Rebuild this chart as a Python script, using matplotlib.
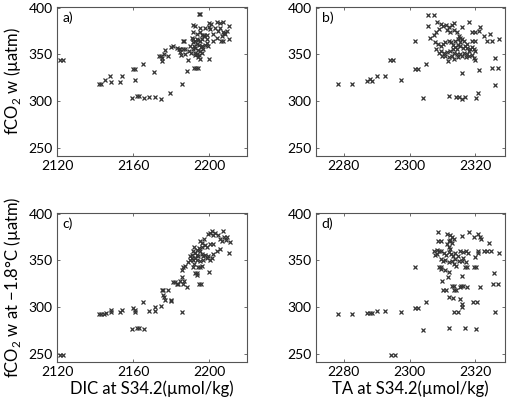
import matplotlib
matplotlib.use("Agg")
import matplotlib.pyplot as plt

plt.rcParams['font.family'] = ['Lato', 'DejaVu Sans']
plt.rcParams['mathtext.fontset'] = 'custom'
plt.rcParams['mathtext.rm'] = 'Lato'

# panel a: DIC vs fCO2w
a_x = [2121.4, 2123.2,
       2142.1, 2143.4, 2145.3, 2148.1, 2148.3, 2153.4, 2154.1,
       2160.1, 2161.1, 2161.3, 2165.3,
       2159.4, 2162.2, 2163.2, 2166.0, 2168.5, 2171.7, 2174.8,
       2171.3, 2179.4, 2185.7, 2188.5, 2189.2, 2191.9, 2193.3, 2194.3, 2200.1,
       2175.5, 2175.5, 2176.2, 2176.8, 2173.6, 2175.0, 2178.5, 2180.1, 2181.3, 2183.1,
       2184.0, 2184.9, 2186.1, 2187.5, 2186.1, 2186.6, 2184.7, 2187.3, 2189.4, 2185.2,
       2190.8, 2191.7, 2191.4, 2192.6, 2193.5, 2194.3, 2195.2, 2196.1, 2192.2, 2193.5,
       2194.7, 2195.6, 2191.7, 2192.6, 2194.3, 2195.2, 2192.6, 2193.8, 2194.7, 2196.1,
       2197.0, 2197.9, 2196.1, 2197.3, 2198.7, 2191.7, 2193.5, 2195.2, 2194.3, 2195.2,
       2192.6, 2190.3, 2190.0,
       2194.5, 2195.2, 2191.7, 2192.6, 2195.2, 2197.3, 2198.7, 2200.0, 2200.8, 2200.5,
       2204.0, 2205.8, 2207.2, 2205.8, 2207.2, 2207.9, 2209.3, 2210.5, 2210.7, 2206.3,
       2207.2, 2202.1, 2206.6, 2198.7, 2199.6, 2196.1, 2203.0, 2204.5, 2198.0, 2200.0,
       2202.0, 2204.0, 2208.5]
a_y = [344, 344,
       318, 318, 323, 327, 320, 320, 327,
       334, 334, 323, 340,
       303, 305, 305, 303, 304, 304, 302,
       331, 309, 318, 332, 344, 335, 335, 335, 345,
       343, 346, 350, 355, 348, 348, 348, 358, 359, 357,
       356, 356, 356, 356, 365, 365, 353, 351, 354, 349,
       368, 367, 363, 365, 367, 366, 364, 367, 359, 361,
       360, 358, 356, 357, 355, 354, 352, 350, 349, 352,
       356, 360, 371, 370, 367, 374, 372, 374, 347, 345,
       349, 352, 359,
       393, 393, 382, 381, 378, 371, 371, 384, 383, 377,
       385, 384, 385, 378, 374, 373, 375, 381, 367, 365,
       365, 365, 370, 362, 359, 359, 378, 375, 378, 380,
       372, 368, 372]

# panel b: TA vs fCO2w
b_x = [2278.3, 2282.5, 2287.0, 2288.0, 2288.6, 2290.0, 2292.4, 2294.0, 2295.0, 2297.4,
       2301.6, 2301.7, 2302.5, 2305.0, 2304.0, 2312.0, 2314.0, 2315.0, 2316.0, 2316.7,
       2316.0, 2320.2, 2320.7, 2321.0, 2326.0, 2326.0, 2325.0, 2327.0, 2327.3, 2323.5,
       2325.0, 2324.3, 2322.5, 2321.5, 2321.0, 2319.0, 2320.0, 2318.0, 2319.0, 2320.0,
       2319.0, 2319.5, 2320.0, 2319.0, 2319.5, 2320.0,
       2305.5, 2307.3, 2305.7, 2308.4, 2309.4, 2306.3, 2307.3, 2308.0, 2309.0, 2310.0,
       2311.0, 2312.0, 2313.0, 2313.4, 2311.4, 2312.2, 2313.4, 2314.4, 2316.0, 2315.0,
       2315.4, 2314.6, 2316.0,
       2307.8, 2308.7, 2309.4, 2310.2, 2310.9, 2311.9, 2312.6, 2313.2, 2313.9, 2314.6,
       2315.4, 2316.3, 2316.7, 2317.5, 2318.0, 2318.5, 2309.4, 2310.4, 2311.4, 2312.4,
       2313.4, 2314.4, 2315.4, 2316.5, 2317.5, 2310.9, 2311.9, 2312.9, 2313.4, 2311.7,
       2309.9, 2308.9, 2308.0, 2314.4, 2313.2, 2317.5, 2316.5, 2315.4, 2313.9, 2314.6,
       2316.0, 2317.0, 2318.0]
b_y = [318.6, 318.6, 321, 324, 321, 327, 327, 344, 344, 323,
       365, 334, 334, 340, 303, 305, 304, 304, 302, 304,
       330, 303, 309, 333, 317, 346, 335, 335, 367, 364,
       364, 372, 370, 379, 375, 374, 374, 385, 365, 365,
       358, 356, 354, 349, 346, 344,
       392, 392, 381, 385, 383, 368, 371, 374, 377, 381,
       382, 380, 382, 384, 376, 374, 376, 374, 379, 370,
       368, 367, 367,
       363, 361, 359.5, 361, 363, 365, 363, 360, 357.7, 360,
       358.8, 356.6, 359.5, 356.6, 354, 356, 354, 352, 353, 354,
       352, 350.5, 350.5, 352, 350.5, 348.7, 347, 348.7, 345, 343,
       348.7, 352, 356, 356, 356, 361, 365, 363, 364, 347,
       348.7, 347, 348.7]

# panel c: DIC vs fCO2w at -1.8C
c_x = [2121.5, 2123.0,
       2142.1, 2143.4, 2144.6, 2146.0,
       2148.3, 2148.3, 2153.4, 2154.1,
       2160.1, 2161.3, 2161.3, 2165.3,
       2159.4, 2162.2, 2163.2, 2166.0,
       2168.5, 2171.7, 2171.7, 2174.8,
       2175.5, 2175.9, 2175.9, 2176.2, 2176.8, 2178.5, 2179.8, 2179.8,
       2185.7,
       2181.2, 2182.0, 2182.9, 2183.8, 2184.7, 2185.6, 2186.1, 2186.8, 2188.2,
       2185.6, 2186.4, 2187.3, 2189.1, 2189.9, 2190.8, 2191.7, 2192.2, 2193.5, 2194.9,
       2195.7, 2192.6, 2193.5, 2194.3, 2195.2, 2196.1, 2200.1,
       2191.7, 2192.6, 2193.5, 2194.3, 2195.2, 2196.1, 2197.0, 2192.6, 2193.8, 2195.2,
       2197.0, 2197.9, 2198.7, 2192.2, 2193.5, 2194.9, 2196.1, 2190.8, 2191.7, 2189.9,
       2195.2, 2196.1, 2197.3, 2199.6, 2200.5, 2201.4, 2202.2, 2203.1, 2204.9, 2205.8,
       2206.6, 2207.2, 2207.9, 2208.9, 2209.6, 2211.0, 2204.0, 2205.8, 2202.2, 2201.4,
       2199.6, 2200.5, 2210.7, 2198.7, 2197.9, 2200.5, 2202.2]
c_y = [249, 249,
       292, 292, 293, 293.5,
       295, 297, 295, 297,
       299, 297, 295, 305,
       276, 278, 278, 276,
       296, 296, 300, 301,
       318, 318, 313, 311, 308, 318, 308, 306,
       295,
       327, 327, 325, 325, 328, 332, 325, 328, 322,
       340, 343, 344, 348, 350, 353, 343, 346, 334, 325,
       325, 337, 337, 343, 343, 344, 338,
       360, 358, 356, 355, 360, 357, 355, 353, 351, 349,
       351, 356, 353, 364, 361, 363, 364, 356, 351, 355,
       371, 369, 373, 378, 380, 382, 377, 380, 377, 373,
       371, 382, 375, 372, 375, 370, 360, 362, 357, 353,
       355, 351, 358, 364, 367, 368, 368]

# panel d: TA vs fCO2w at -1.8C
d_x = [2278.3, 2282.5, 2287.0, 2288.0, 2288.6, 2290.0, 2292.4, 2297.4, 2294.3, 2295.5,
       2301.6, 2301.7, 2302.5, 2305.0, 2304.0, 2312.0, 2316.7, 2320.2,
       2308.5, 2308.7, 2309.4, 2309.0, 2309.4, 2309.9, 2310.2, 2311.0, 2311.6, 2312.0,
       2313.1, 2313.6, 2314.6, 2312.8, 2313.4, 2313.6, 2314.2, 2315.4, 2316.0, 2316.0,
       2315.2, 2315.5, 2316.2, 2316.0, 2316.7, 2317.5, 2316.3, 2317.5, 2319.3, 2319.5,
       2320.1, 2320.0, 2320.7, 2320.7, 2320.5, 2321.3, 2322.5, 2323.5, 2324.8, 2324.2,
       2321.3, 2321.7, 2319.5, 2320.7, 2318.0, 2316.0, 2325.6, 2325.3, 2326.9, 2327.3,
       2325.9,
       2311.4, 2312.2, 2313.0, 2311.9, 2312.4, 2313.0, 2313.4, 2311.4, 2311.9, 2312.4,
       2307.3, 2308.2, 2309.0, 2309.6, 2307.8, 2308.4, 2310.4, 2311.2, 2311.9, 2312.6,
       2313.2, 2313.9, 2314.6, 2315.4, 2316.2, 2317.0, 2317.7, 2309.4, 2310.2, 2310.9,
       2311.9, 2312.9, 2313.9, 2314.9, 2316.0, 2317.0, 2309.6, 2310.9, 2311.9, 2313.4,
       2314.2]
d_y = [292, 292, 293.8, 293.8, 293.8, 296, 296, 294.5, 249, 249,
       342.6, 298.5, 298.5, 305, 275.5, 277, 277, 276,
       381, 370.6, 370.6, 342.6, 340.4, 327.5, 318, 318, 332.5, 311,
       310, 295, 295, 323, 323, 318, 318, 309, 300, 303,
       321, 323, 323, 333, 342.6, 342.6, 353, 321, 305, 342.6,
       342.6, 353.4, 358, 360.5, 305, 322, 360.5, 360.5, 360.5, 368.5,
       375.6, 373, 375.6, 378.5, 381, 376, 337, 325, 325, 357.7,
       295,
       378.5, 377, 375.6, 371, 372, 369, 373, 367.7, 364, 362,
       360.5, 361, 359.8, 360.5, 356.2, 357, 357.7, 356.2, 358.7, 357,
       355, 357.7, 355, 360.5, 358.7, 359.8, 357.7, 351.6, 349, 350.5,
       348, 349.5, 351.6, 349.5, 349.5, 348, 342.6, 340, 338, 346,
       344]

panels = [
    ('a)', a_x, a_y, (2120, 2220), [2120, 2160, 2200], [0.1122, 0.611, 0.374, 0.3716]),
    ('b)', b_x, b_y, (2271.5, 2329), [2280, 2300, 2320], [0.622, 0.611, 0.372, 0.3716]),
    ('c)', c_x, c_y, (2120, 2220), [2120, 2160, 2200], [0.1122, 0.0973, 0.374, 0.3716]),
    ('d)', d_x, d_y, (2271.5, 2329), [2280, 2300, 2320], [0.622, 0.0973, 0.372, 0.3716]),
]

fig = plt.figure(figsize=(5.08, 4.01), dpi=100)
axs = []
for lab, xs, ys, xl, xt, pos in panels:
    ax = fig.add_axes(pos)
    ax.plot(xs, ys, 'x', color='#333333', markersize=3.3, markeredgewidth=0.9)
    ax.set_xlim(*xl)
    ax.set_ylim(241, 401)
    ax.set_xticks(xt)
    ax.set_yticks([250, 300, 350, 400])
    ax.tick_params(direction='in', top=True, right=True, length=2.5, width=0.6,
                   labelsize=10, pad=3, color='#555555')
    for s in ax.spines.values():
        s.set_linewidth(0.8)
        s.set_color('#555555')
    ax.text(0.03, 0.93, lab, transform=ax.transAxes, fontsize=10, va='center')
    axs.append(ax)

axs[0].set_ylabel('fCO$_2$ w (µatm)', fontsize=12, labelpad=4)
axs[2].set_ylabel('fCO$_2$ w at −1.8°C (µatm)', fontsize=12, labelpad=4)
axs[2].set_xlabel('DIC at S34.2(µmol/kg)', fontsize=12, labelpad=2)
axs[3].set_xlabel('TA at S34.2(µmol/kg)', fontsize=12, labelpad=2)

fig.savefig('out.png', dpi=100)
